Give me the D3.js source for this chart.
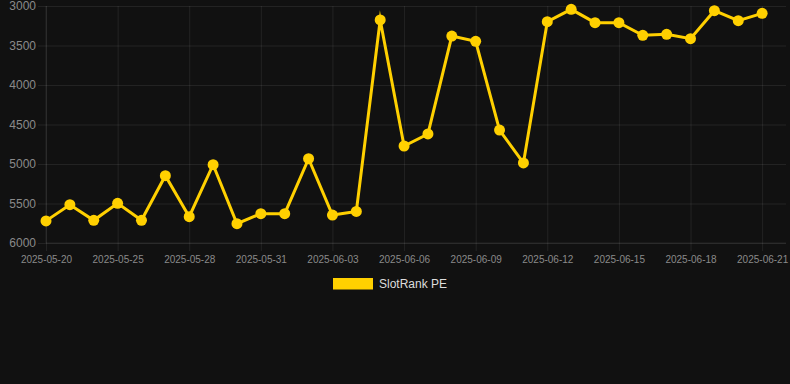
<!DOCTYPE html>
<html>
<head>
<meta charset="utf-8">
<script src="https://cdn.jsdelivr.net/npm/d3@7"></script>
<style>
  html, body { margin: 0; padding: 0; background: #111111; }
  svg { display: block; }
  text { font-family: "Liberation Sans", Arial, Helvetica, sans-serif; }
</style>
</head>
<body>
<svg id="chart" width="790" height="384"></svg>
<script>
// ---- data ----
const categories = [
  "2025-05-20","2025-05-22","2025-05-23","2025-05-25","2025-05-26","2025-05-27",
  "2025-05-28","2025-05-29","2025-05-30","2025-05-31","2025-06-01","2025-06-02",
  "2025-06-03","2025-06-04","2025-06-05","2025-06-06","2025-06-07","2025-06-08",
  "2025-06-09","2025-06-10","2025-06-11","2025-06-12","2025-06-13","2025-06-14",
  "2025-06-15","2025-06-16","2025-06-17","2025-06-18","2025-06-19","2025-06-20",
  "2025-06-21","2025-06-22"
];
const seriesName = "SlotRank PE";
const rankValues = [
  5720, 5515, 5713, 5498, 5713, 5148, 5667, 5009, 5756, 5629, 5629, 4933,
  5646, 5600, 3177, 4772, 4620, 3380, 3447, 4570, 4987, 3198, 3042, 3211,
  3211, 3371, 3359, 3413, 3059, 3186, 3093, null
];
const yTicks = [3000, 3500, 4000, 4500, 5000, 5500, 6000];
const xTickEvery = 3;

// ---- layout ----
const W = 790, H = 384;
const plotL = 46, plotR = 786, plotT = 6, plotB = 243;
const tickLen = 8;
const lineColor = "#FFD000";
const gridColor = "rgba(255,255,255,0.08)";

const svg = d3.select("#chart");
svg.append("rect").attr("width", W).attr("height", H).attr("fill", "#111111");

const x = d3.scalePoint().domain(categories).range([plotL, plotR]);
const y = d3.scaleLinear().domain([3000, 6000]).range([plotT, plotB]);

const xTickVals = categories.filter((d, i) => i % xTickEvery === 0);

// horizontal grid + y axis
const ySpan = plotR - plotL + tickLen;
const yAxis = d3.axisLeft(y).tickValues(yTicks).tickSize(ySpan).tickPadding(2).tickFormat(d3.format("d"));
const gy = svg.append("g").attr("transform", `translate(${plotR},0)`).call(yAxis);
gy.select(".domain").remove();
gy.selectAll(".tick line").attr("stroke", gridColor).attr("stroke-width", 1);
gy.selectAll(".tick text").attr("fill", "#8a8a8a").attr("font-size", 12);

// vertical grid + x axis
const xAxis = d3.axisBottom(x).tickValues(xTickVals).tickSize(plotB - plotT + tickLen).tickPadding(5);
const gx = svg.append("g").attr("transform", `translate(0,${plotT})`).call(xAxis);
gx.select(".domain").remove();
gx.selectAll(".tick line").attr("stroke", gridColor).attr("stroke-width", 1);
gx.selectAll(".tick text").attr("fill", "#8a8a8a").attr("font-size", 10);

// axis borders
svg.append("line").attr("x1", plotL).attr("x2", plotL).attr("y1", plotT).attr("y2", plotB)
  .attr("stroke", gridColor);
svg.append("line").attr("x1", plotL).attr("x2", plotR).attr("y1", plotB).attr("y2", plotB)
  .attr("stroke", gridColor);

// data
const pts = categories.map((c, i) => ({c, v: rankValues[i]})).filter(d => d.v != null);

const line = d3.line().x(d => x(d.c)).y(d => y(d.v));
svg.append("path").datum(pts)
  .attr("d", line)
  .attr("fill", "none")
  .attr("stroke", lineColor)
  .attr("stroke-width", 3)
  .attr("stroke-linejoin", "miter")
  .attr("stroke-miterlimit", 10);

svg.append("g").selectAll("circle").data(pts).join("circle")
  .attr("cx", d => x(d.c)).attr("cy", d => y(d.v)).attr("r", 5.5)
  .attr("fill", lineColor);

// legend
const lg = svg.append("g");
lg.append("rect").attr("x", 333).attr("y", 278).attr("width", 40).attr("height", 11.5).attr("fill", lineColor);
lg.append("text").attr("x", 379).attr("y", 284).attr("dy", "0.35em")
  .attr("fill", "#dddddd").attr("font-size", 12).text(seriesName);
</script>
</body>
</html>
